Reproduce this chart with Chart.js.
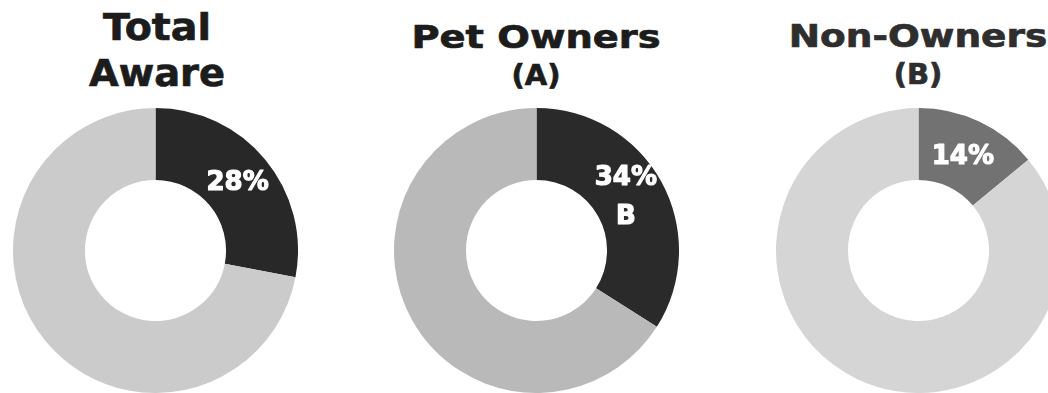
<!DOCTYPE html>
<html>
<head>
<meta charset="utf-8">
<script src="https://cdn.jsdelivr.net/npm/chart.js@4"></script>
<style>
  html, body { margin: 0; padding: 0; background: #fff; }
  body { width: 1048px; height: 393px; position: relative; overflow: hidden; font-family: "DejaVu Sans", sans-serif; }
  .title { position: absolute; top: 0; width: 320px; text-align: center; font-weight: bold; color: #1c1c1c; white-space: nowrap; -webkit-text-stroke: 0.7px currentColor; }
  .title span { display: block; transform-origin: center; }
  canvas { position: absolute; top: 108px; }
</style>
</head>
<body>

<div class="title" id="t0" style="left:-3px;">
  <span style="font-size:38px; line-height:46px; margin-top:4px; transform:scaleX(1.04);">Total</span>
  <span style="font-size:38px; line-height:46px; transform:scaleX(1.01);">Aware</span>
</div>
<div class="title" id="t1" style="left:376px;">
  <span style="font-size:32px; line-height:40px; margin-top:17px; transform:scaleX(1.2);">Pet Owners</span>
  <span style="font-size:29px; line-height:34px; margin-top:1px;">(A)</span>
</div>
<div class="title" id="t2" style="left:758px; color:#2e2e2e;">
  <span style="font-size:32px; line-height:40px; margin-top:16px; transform:scaleX(1.17);">Non-Owners</span>
  <span style="font-size:29px; line-height:34px; margin-top:1px;">(B)</span>
</div>

<canvas id="chart0" width="285" height="285" style="left:13px;"></canvas>
<canvas id="chart1" width="285" height="285" style="left:394px;"></canvas>
<canvas id="chart2" width="285" height="285" style="left:776px;"></canvas>

<script>
// data
const groups = ['Total Aware', 'Pet Owners (A)', 'Non-Owners (B)'];
const segmentLabels = ['Aware', 'Not aware'];
const awareValues = [28, 34, 14];
const notAwareValues = [72, 66, 86];
const sigLetters = ['', 'B', ''];

const darkColors = ['#282828', '#2a2a2a', '#727272'];
const lightColors = ['#cbcbcb', '#b9b9b9', '#d5d5d5'];

// draws the % (and significance letter) inside the first slice
const sliceLabel = {
  id: 'sliceLabel',
  afterDatasetsDraw(chart, args, opts) {
    const arc = chart.getDatasetMeta(0).data[0];
    if (!arc) return;
    const pos = arc.tooltipPosition();
    const lines = opts.lines;
    const ctx = chart.ctx;
    ctx.save();
    ctx.fillStyle = '#ffffff';
    ctx.strokeStyle = '#ffffff';
    ctx.lineWidth = 1.2;
    ctx.lineJoin = 'round';
    ctx.font = 'bold 26px "DejaVu Sans", sans-serif';
    ctx.textAlign = 'center';
    ctx.textBaseline = 'middle';
    const gap = 39;
    const y0 = pos.y - (lines.length - 1) * gap / 2 + opts.dy;
    lines.forEach((t, i) => {
      ctx.fillText(t, pos.x + opts.dx, y0 + i * gap);
      ctx.strokeText(t, pos.x + opts.dx, y0 + i * gap);
    });
    ctx.restore();
  }
};

const offsets = [{ dx: 0, dy: 1 }, { dx: -4, dy: -1 }, { dx: -1, dy: 3 }];

groups.forEach((g, i) => {
  const lines = [awareValues[i] + '%'];
  if (sigLetters[i]) lines.push(sigLetters[i]);
  new Chart(document.getElementById('chart' + i).getContext('2d'), {
    type: 'doughnut',
    data: {
      labels: segmentLabels,
      datasets: [{
        label: g,
        data: [awareValues[i], notAwareValues[i]],
        backgroundColor: [darkColors[i], lightColors[i]],
        borderWidth: 0
      }]
    },
    options: {
      responsive: false,
      animation: false,
      cutout: '49.5%',
      layout: { padding: 0 },
      plugins: {
        legend: { display: false },
        tooltip: { enabled: false },
        sliceLabel: { lines: lines, dx: offsets[i].dx, dy: offsets[i].dy }
      }
    },
    plugins: [sliceLabel]
  });
});
</script>
</body>
</html>
